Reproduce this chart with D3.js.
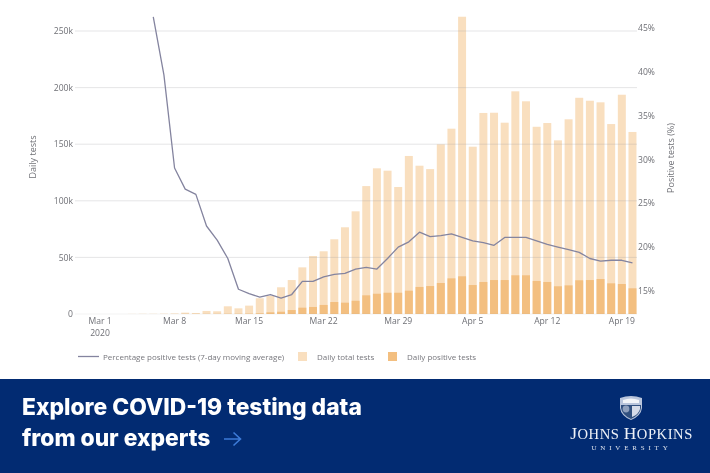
<!DOCTYPE html>
<html><head><meta charset="utf-8">
<script src="https://cdn.jsdelivr.net/npm/d3@7"></script>
<style>
html,body{margin:0;padding:0;background:#fff}
svg{display:block;filter:blur(0.3px)}
text{font-family:"Open Sans",sans-serif}
.ax text{font-size:8.6px;fill:#6f7076}
.ax path,.ax line{display:none}
</style></head><body>
<svg id="c" width="710" height="473"></svg>
<script>
const dates = ["Mar 1","Mar 2","Mar 3","Mar 4","Mar 5","Mar 6","Mar 7","Mar 8","Mar 9","Mar 10","Mar 11","Mar 12","Mar 13","Mar 14","Mar 15","Mar 16","Mar 17","Mar 18","Mar 19","Mar 20","Mar 21","Mar 22","Mar 23","Mar 24","Mar 25","Mar 26","Mar 27","Mar 28","Mar 29","Mar 30","Mar 31","Apr 1","Apr 2","Apr 3","Apr 4","Apr 5","Apr 6","Apr 7","Apr 8","Apr 9","Apr 10","Apr 11","Apr 12","Apr 13","Apr 14","Apr 15","Apr 16","Apr 17","Apr 18","Apr 19","Apr 20"];
const totalTests = [0,0,0,100,200,200,300,500,1200,900,2700,2400,6800,5000,7400,13900,15900,23600,30000,41200,51200,55400,66000,76600,90700,113000,128700,126600,112200,139600,131000,128000,149900,163700,262600,147800,177600,177800,169000,196700,187900,165400,168700,153400,172000,191000,188400,187000,167800,193700,160800];
const positiveTests = [0,0,0,0,0,0,0,0,100,100,100,100,200,200,300,600,1500,2000,3500,5600,6200,8000,10600,10000,11700,16500,17900,18800,18800,20600,23900,24700,27400,31500,33300,25600,28300,30000,30000,34200,34200,29200,28300,24500,25300,29800,30000,30900,27100,26500,22700];
const linePct = [null,null,null,null,null,46.2,39.6,29.0,26.6,26.0,22.4,20.8,18.7,15.2,14.7,14.3,14.6,14.2,14.6,16.1,16.1,16.6,16.9,17.0,17.5,17.7,17.5,18.7,20.0,20.6,21.7,21.2,21.3,21.5,21.1,20.7,20.5,20.2,21.1,21.1,21.1,20.7,20.3,20.0,19.7,19.4,18.7,18.4,18.5,18.5,18.2];
const xTicks = ["Mar 1","Mar 8","Mar 15","Mar 22","Mar 29","Apr 5","Apr 12","Apr 19"];
const leftTicks = [0,50000,100000,150000,200000,250000];
const rightTicks = [15,20,25,30,35,40,45];

const svg = d3.select("#c");
const x = d3.scaleBand().domain(dates).range([94.7,637.8]).paddingInner(0.25).paddingOuter(0.125);
const xc = d => x(d)+x.bandwidth()/2;
const y = d3.scaleLinear().domain([0,250000]).range([314,31]);
const yr = d3.scaleLinear().domain([15,45]).range([291,27.5]);

// bars
svg.append("g").selectAll("rect").data(dates).join("rect")
  .attr("x",d=>x(d)).attr("width",x.bandwidth())
  .attr("y",(d,i)=>y(totalTests[i])).attr("height",(d,i)=>y(0)-y(totalTests[i]))
  .attr("fill","#f9dfbf");
svg.append("g").selectAll("rect").data(dates).join("rect")
  .attr("x",d=>x(d)).attr("width",x.bandwidth())
  .attr("y",(d,i)=>y(positiveTests[i])).attr("height",(d,i)=>y(0)-y(positiveTests[i]))
  .attr("fill","#f3bf80");

// grid
svg.append("g").selectAll("line").data(leftTicks).join("line")
  .attr("x1",75).attr("x2",637).attr("y1",d=>y(d)).attr("y2",d=>y(d))
  .attr("stroke","#9a9aa0").attr("stroke-opacity",d=>d===0?0.12:0.25).attr("stroke-width",1);

// line
const line = d3.line().defined(d=>d!==null).x((d,i)=>xc(dates[i])).y(d=>yr(d));
svg.append("path").datum(linePct).attr("d",line).attr("fill","none")
  .attr("stroke","#84849f").attr("stroke-width",1.3).attr("stroke-linejoin","round");

// axes
const gl = svg.append("g").attr("class","ax").attr("transform","translate(75,0)")
  .call(d3.axisLeft(y).tickValues(leftTicks).tickSize(0).tickPadding(2).tickFormat(d=>d===0?"0":(d/1000)+"k"));
const gr = svg.append("g").attr("class","ax").attr("transform","translate(636,0)")
  .call(d3.axisRight(yr).tickValues(rightTicks).tickSize(0).tickPadding(2).tickFormat(d=>d+"%"));
const gx = svg.append("g").attr("class","ax").attr("transform","translate(0,317)")
  .call(d3.axisBottom(x).tickValues(xTicks).tickSize(0).tickPadding(1));
svg.append("text").attr("x",xc("Mar 1")).attr("y",335.5).attr("text-anchor","middle")
  .attr("font-size",8.6).attr("fill","#6f7076").text("2020");

// axis titles
svg.append("text").attr("transform","translate(36,157) rotate(-90)").attr("text-anchor","middle")
  .attr("font-size",9).attr("fill","#6f7076").text("Daily tests");
svg.append("text").attr("transform","translate(674,158) rotate(-90)").attr("text-anchor","middle")
  .attr("font-size",9).attr("fill","#6f7076").text("Positive tests (%)");

// legend
const lg = svg.append("g").attr("font-size",8).attr("fill","#77777d");
lg.append("line").attr("x1",78).attr("x2",99).attr("y1",356.5).attr("y2",356.5).attr("stroke","#84849f").attr("stroke-width",1.3);
lg.append("text").attr("x",103).attr("y",359.5).text("Percentage positive tests (7-day moving average)");
lg.append("rect").attr("x",298).attr("y",352).attr("width",9).attr("height",9).attr("fill","#f9dfbf");
lg.append("text").attr("x",317).attr("y",359.5).text("Daily total tests");
lg.append("rect").attr("x",388).attr("y",352).attr("width",9).attr("height",9).attr("fill","#f3bf80");
lg.append("text").attr("x",407).attr("y",359.5).text("Daily positive tests");

// banner
svg.append("rect").attr("x",0).attr("y",379).attr("width",710).attr("height",94).attr("fill","#022b72");
const bt = svg.append("g").attr("fill","#fff").attr("font-weight",800).attr("font-size",22.8);
bt.append("text").attr("x",22).attr("y",415).style("font-family","Inter").text("Explore COVID-19 testing data");
bt.append("text").attr("x",22).attr("y",446).style("font-family","Inter").text("from our experts");
svg.append("path").attr("d","M224 439H240M233.5 432.5L240.5 439L233.5 445.5").attr("fill","none").attr("stroke","#3d7bd8").attr("stroke-width",1.6);

// logo
const lo = svg.append("g");
lo.append("path").attr("d","M620 398Q631 394 642 398L642 408Q641 416 631 420Q621 416 620 408Z").attr("fill","#b9c5dc");
lo.append("path").attr("d","M621 405H641V408Q640 415 631 419Q622 415 621 408Z").attr("fill","#31507f");
lo.append("path").attr("d","M632 406H640V409Q639 414 632 417Z").attr("fill","#d5dbe8");
lo.append("circle").attr("cx",626).attr("cy",409).attr("r",3.4).attr("fill","#8fa0bd");
lo.append("path").attr("d","M623 400Q631 397 639 400V403H623Z").attr("fill","#f2f4f8");
const lt = lo.append("text").attr("x",631.5).attr("y",438.5).attr("text-anchor","middle").attr("fill","#eef1f7").attr("font-size",17.5)
  .attr("letter-spacing",0.55).style("font-family","Liberation Serif");
lt.append("tspan").text("J");
lt.append("tspan").attr("font-size",14.6).text("OHNS ");
lt.append("tspan").text("H");
lt.append("tspan").attr("font-size",14.6).text("OPKINS");
lo.append("text").attr("x",631.5).attr("y",450).attr("text-anchor","middle").attr("fill","#dfe4ee").attr("font-size",7)
  .attr("letter-spacing",3.8).style("font-family","Liberation Serif").text("UNIVERSITY");
</script>
</body></html>
